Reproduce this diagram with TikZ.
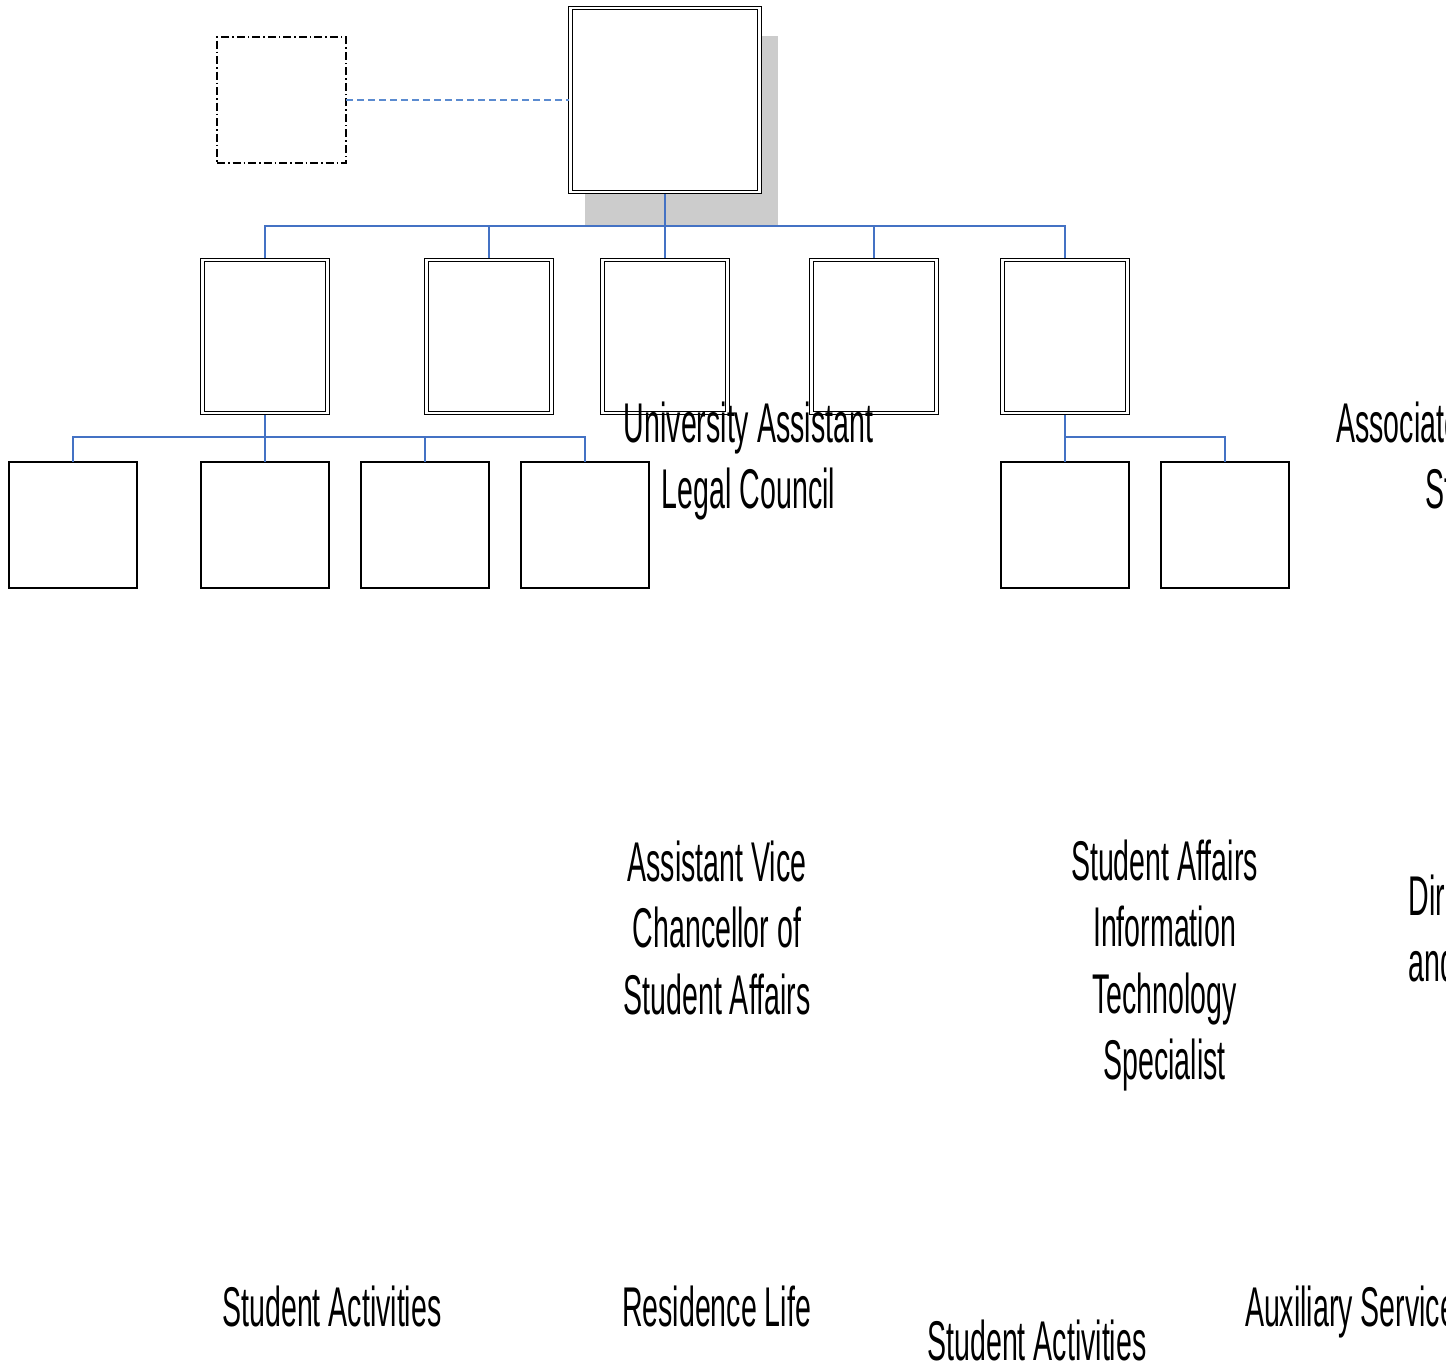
\documentclass[tikz,border=0pt]{standalone}
\usepackage{fontspec}
\newfontfamily\condfont[FakeStretch=0.51]{Liberation Sans}
\newcommand\tallrule{\rule{0pt}{45pt}}
\definecolor{linkblue}{HTML}{4472C4}
\definecolor{dashblue}{HTML}{5B8BD0}
\definecolor{shadowgray}{HTML}{CCCCCC}
\begin{document}
\begin{tikzpicture}[x=1pt,y=-1pt,
  conn/.style={draw=linkblue, line width=1.3pt},
  dashlink/.style={draw=dashblue, line width=1.2pt, dash pattern=on 7pt off 4pt},
  dbox/.style={draw=black, double, double distance=2.2pt, line width=1pt,
    minimum width=125pt, minimum height=153pt, inner sep=0pt, outer sep=2pt, fill=white},
  sbox/.style={draw=black, line width=1.3pt, minimum width=128pt, minimum height=126pt,
    inner sep=0pt, outer sep=0pt, fill=white},
  advbox/.style={draw=black, line width=1.1pt, dash pattern=on 8pt off 3pt on 1.5pt off 3pt,
    minimum width=129pt, minimum height=126pt, inner sep=0pt, outer sep=0pt},
  lbl/.style={font=\condfont\fontsize{56}{66.5}\selectfont, inner sep=0pt, outer sep=0pt,
    align=center, anchor=north},
  blbl/.style={font=\condfont\fontsize{56}{66.5}\selectfont, inner sep=0pt, outer sep=0pt}]
\useasboundingbox (0,0) rectangle (1446,1366);
\clip (0,0) rectangle (1446,1366);

% shadow of the top box
\fill[shadowgray] (585,36) rectangle (778,226);

% boxes
\node[dbox, minimum width=189pt, minimum height=184pt] (top) at (665,100) {};
\node[advbox] (adv) at (281.5,100) {};

\node[dbox] (m1) at (265,336.5) {};
\node[dbox] (m2) at (489,336.5) {};
\node[dbox] (m3) at (665,336.5) {};
\node[dbox] (m4) at (874,336.5) {};
\node[dbox] (m5) at (1065,336.5) {};

\node[sbox] (a) at (73,525) {};
\node[sbox] (b) at (265,525) {};
\node[sbox] (c) at (425,525) {};
\node[sbox] (d) at (585,525) {};
\node[sbox] (e) at (1065,525) {};
\node[sbox] (f) at (1225,525) {};

% connectors
\draw[dashlink] (adv.east) -- (top.west);
\foreach \m in {m1,m2,m3,m4,m5}
  \draw[conn] (top.south) -- ++(0,32) -| (\m.north);
\foreach \s in {a,b,c,d}
  \draw[conn] (m1.south) -- ++(0,22) -| (\s.north);
\foreach \s in {e,f}
  \draw[conn] (m5.south) -- ++(0,22) -| (\s.north);

% labels
\node[lbl] (legal) at (748.5,397) {\tallrule University Assistant\\Legal Council};
\node[lbl] (assoc) at (1502,397) {\tallrule Associate Vice Chancellor\\Student Life};
\node[lbl] (avc) at (717,836) {\tallrule Assistant Vice\\Chancellor of\\Student Affairs};
\node[lbl] (sait) at (1164.5,835) {\tallrule Student Affairs\\Information\\Technology\\Specialist};
\node[lbl] (dir) at (1531,870) {\tallrule Director of Housing\\and Residence Life};

\node[blbl, anchor=base] (sa1) at (332,1326) {Student Activities};
\node[blbl, anchor=base] (rl) at (716.5,1326) {Residence Life};
\node[blbl, anchor=base] (sa2) at (1037,1360) {Student Activities};
\node[blbl, anchor=base west] (aux) at (1245,1326) {Auxiliary Services};
\end{tikzpicture}
\end{document}
